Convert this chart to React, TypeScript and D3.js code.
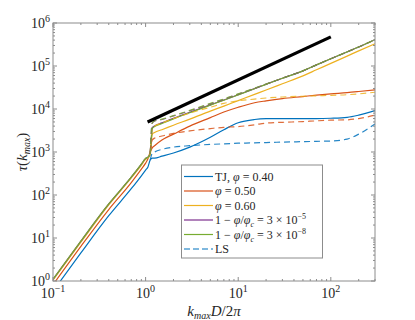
import React from 'react';
import * as d3 from 'd3';

// x grid (k_max D / 2pi)
const kx = [0.1, 0.2, 0.4, 0.7, 0.9, 1.0, 1.06, 1.12, 1.18, 1.25, 1.5, 2, 3, 5, 7, 10, 15, 20, 30, 50, 70, 100, 150, 200, 300];
// LS curves start at the jump
const kxLS = kx.slice(7);

const tjBlue = [0.58, 4.5, 33, 140, 280, 380, 450, 650, 720, 720, 800, 950, 1300, 2200, 3300, 4800, 5700, 5950, 6000, 6000, 6000, 6100, 6400, 7200, 9200];
const tjOrange = [0.82, 6.4, 46, 195, 400, 550, 700, 1000, 1250, 1400, 1900, 2600, 4000, 6300, 8500, 11000, 14000, 15500, 17500, 19500, 21000, 22500, 24000, 25500, 28000];
const tjYellow = [1.05, 8, 59, 250, 495, 680, 730, 850, 2600, 2850, 3300, 4200, 5800, 8900, 11700, 15700, 21900, 27600, 38600, 59000, 81600, 115000, 170000, 225000, 330000];
const tjPurple = [1.1, 8.5, 62, 260, 520, 710, 760, 900, 3700, 4050, 4750, 6100, 8400, 12500, 16200, 21500, 29800, 37600, 52000, 77000, 106000, 147000, 213000, 277000, 410000];
const tjGreen = [1.1, 8.5, 62, 260, 520, 710, 760, 900, 3500, 3900, 4600, 5900, 8200, 12300, 16000, 21300, 29600, 37400, 51800, 77000, 106000, 147000, 213000, 277000, 410000];

const lsBlue = [650, 930, 1000, 1150, 1300, 1400, 1500, 1550, 1600, 1630, 1660, 1700, 1740, 1770, 1800, 2000, 2600, 4500];
const lsOrange = [1000, 1900, 2100, 2350, 2700, 3100, 3500, 3750, 3900, 4300, 4700, 4900, 5100, 5300, 5500, 5600, 6000, 7200];
const lsYellow = [850, 3600, 4000, 4700, 6000, 8000, 11000, 13500, 15500, 17000, 18000, 19000, 19800, 20300, 20800, 21500, 22500, 24500];
const lsPurple = [900, 4700, 5200, 5700, 6900, 9100, 13200, 16900, 22200, 30200, 37800, 51900, 77000, 106000, 147000, 213000, 277000, 410000];
const lsGreen = [900, 4800, 5300, 5800, 7000, 9300, 13500, 17200, 22500, 30500, 38000, 52000, 77000, 106000, 147000, 213000, 277000, 410000];

// reference slope line
const refX = [1.05, 100];
const refY = [5000, 476000];

const colors = ['#0072BD', '#D95319', '#EDB120', '#7E2F8E', '#77AC30'];
const tjSeries = [tjBlue, tjOrange, tjYellow, tjPurple, tjGreen];
const lsSeries = [lsBlue, lsOrange, lsYellow, lsPurple, lsGreen];

const xPow = [-1, 0, 1, 2];
const yPow = [0, 1, 2, 3, 4, 5, 6];

const W = 415, H = 320;
const L = 53, R = 375, T = 23, B = 281;
const font = '"Liberation Serif", "DejaVu Serif", serif';
const axisCol = '#8c8c8c';

const Pow10 = ({ x, y, p, anchor }: { x: number; y: number; p: number; anchor: string }) => (
  <text x={x} y={y} textAnchor={anchor} fontFamily={font} fontSize={14} fill="#262626">
    10<tspan dy={-6} fontSize={10}>{p < 0 ? '\u2212' + -p : p}</tspan>
  </text>
);

export default function App() {
  const x = d3.scaleLog().domain([0.1, 300]).range([L, R]);
  const y = d3.scaleLog().domain([1, 1e6]).range([B, T]);

  const line = d3.line<[number, number]>().x(d => x(d[0])).y(d => y(d[1])).curve(d3.curveMonotoneX);
  const pts = (xs: number[], ys: number[]) => xs.map((v, i) => [v, ys[i]] as [number, number]);

  const xMinor = x.ticks().filter(t => !xPow.some(p => Math.abs(t - Math.pow(10, p)) < 1e-9));
  const yMinor = y.ticks().filter(t => !yPow.some(p => Math.abs(t - Math.pow(10, p)) < 1e-9));

  const legendItems = [
    { c: colors[0], dash: false, label: <>TJ, <tspan fontStyle="italic">φ</tspan> = 0.40</> },
    { c: colors[1], dash: false, label: <><tspan fontStyle="italic">φ</tspan> = 0.50</> },
    { c: colors[2], dash: false, label: <><tspan fontStyle="italic">φ</tspan> = 0.60</> },
    { c: colors[3], dash: false, label: <>1 − <tspan fontStyle="italic">φ</tspan>/<tspan fontStyle="italic">φ</tspan><tspan dy={3} fontSize={8} fontStyle="italic">c</tspan><tspan dy={-3}> = 3 × 10</tspan><tspan dy={-5} fontSize={8}>−5</tspan></> },
    { c: colors[4], dash: false, label: <>1 − <tspan fontStyle="italic">φ</tspan>/<tspan fontStyle="italic">φ</tspan><tspan dy={3} fontSize={8} fontStyle="italic">c</tspan><tspan dy={-3}> = 3 × 10</tspan><tspan dy={-5} fontSize={8}>−8</tspan></> },
    { c: colors[0], dash: true, label: <>LS</> },
  ];

  return (
    <div style={{ position: 'absolute', left: 0, top: 0 }}>
      <svg width={W} height={H}>
        <rect width={W} height={H} fill="#fff" />
        <defs>
          <clipPath id="plot">
            <rect x={L} y={T} width={R - L} height={B - T} />
          </clipPath>
        </defs>

        <g clipPath="url(#plot)" fill="none">
          {tjSeries.map((s, i) => (
            <path key={'tj' + i} d={line(pts(kx, s)) || ''} stroke={colors[i]} strokeWidth={1.2} />
          ))}
          {lsSeries.map((s, i) => (
            <path key={'ls' + i} d={line(pts(kxLS, s)) || ''} stroke={colors[i]} strokeWidth={1.2} strokeDasharray="6,4" opacity={0.85} />
          ))}
          <path d={line(pts(refX, refY)) || ''} stroke="#000" strokeWidth={3.2} />
        </g>

        {/* box */}
        <rect x={L} y={T} width={R - L} height={B - T} fill="none" stroke={axisCol} strokeWidth={1} />
        {xPow.map(p => (
          <g key={'xM' + p}>
            <line x1={x(Math.pow(10, p))} x2={x(Math.pow(10, p))} y1={B} y2={B - 4} stroke={axisCol} />
            <line x1={x(Math.pow(10, p))} x2={x(Math.pow(10, p))} y1={T} y2={T + 4} stroke={axisCol} />
            <Pow10 x={x(Math.pow(10, p))} y={298} p={p} anchor="middle" />
          </g>
        ))}
        {xMinor.map((t, i) => (
          <g key={'xm' + i}>
            <line x1={x(t)} x2={x(t)} y1={B} y2={B - 2} stroke={axisCol} />
            <line x1={x(t)} x2={x(t)} y1={T} y2={T + 2} stroke={axisCol} />
          </g>
        ))}
        {yPow.map(p => (
          <g key={'yM' + p}>
            <line x1={L} x2={L + 4} y1={y(Math.pow(10, p))} y2={y(Math.pow(10, p))} stroke={axisCol} />
            <line x1={R} x2={R - 4} y1={y(Math.pow(10, p))} y2={y(Math.pow(10, p))} stroke={axisCol} />
            <Pow10 x={50} y={y(Math.pow(10, p)) + 5} p={p} anchor="end" />
          </g>
        ))}
        {yMinor.map((t, i) => (
          <g key={'ym' + i}>
            <line x1={L} x2={L + 2} y1={y(t)} y2={y(t)} stroke={axisCol} />
            <line x1={R} x2={R - 2} y1={y(t)} y2={y(t)} stroke={axisCol} />
          </g>
        ))}

        {/* axis labels */}
        <text x={214} y={316} textAnchor="middle" fontFamily={font} fontSize={15} fill="#262626">
          <tspan fontStyle="italic">k</tspan>
          <tspan dy={3} fontSize={10} fontStyle="italic">max</tspan>
          <tspan dy={-3} fontStyle="italic">D</tspan>
          <tspan>/2</tspan>
          <tspan fontStyle="italic">π</tspan>
        </text>
        <text transform="translate(27,152) rotate(-90)" textAnchor="middle" fontFamily={font} fontSize={15} fill="#262626">
          <tspan fontStyle="italic">τ</tspan>
          <tspan>(</tspan>
          <tspan fontStyle="italic">k</tspan>
          <tspan dy={3} fontSize={10} fontStyle="italic">max</tspan>
          <tspan dy={-3}>)</tspan>
        </text>

        {/* legend */}
        <rect x={181.5} y={165} width={141} height={93} fill="#fff" stroke={axisCol} strokeWidth={1} />
        {legendItems.map((it, i) => {
          const yy = 176.5 + i * 14.5;
          return (
            <g key={'lg' + i}>
              <line x1={184} x2={213} y1={yy} y2={yy} stroke={it.c} strokeWidth={1.2} strokeDasharray={it.dash ? '6,3' : undefined} />
              <text x={215} y={yy + 4} fontFamily={font} fontSize={12} fill="#262626">{it.label}</text>
            </g>
          );
        })}
      </svg>
    </div>
  );
}
